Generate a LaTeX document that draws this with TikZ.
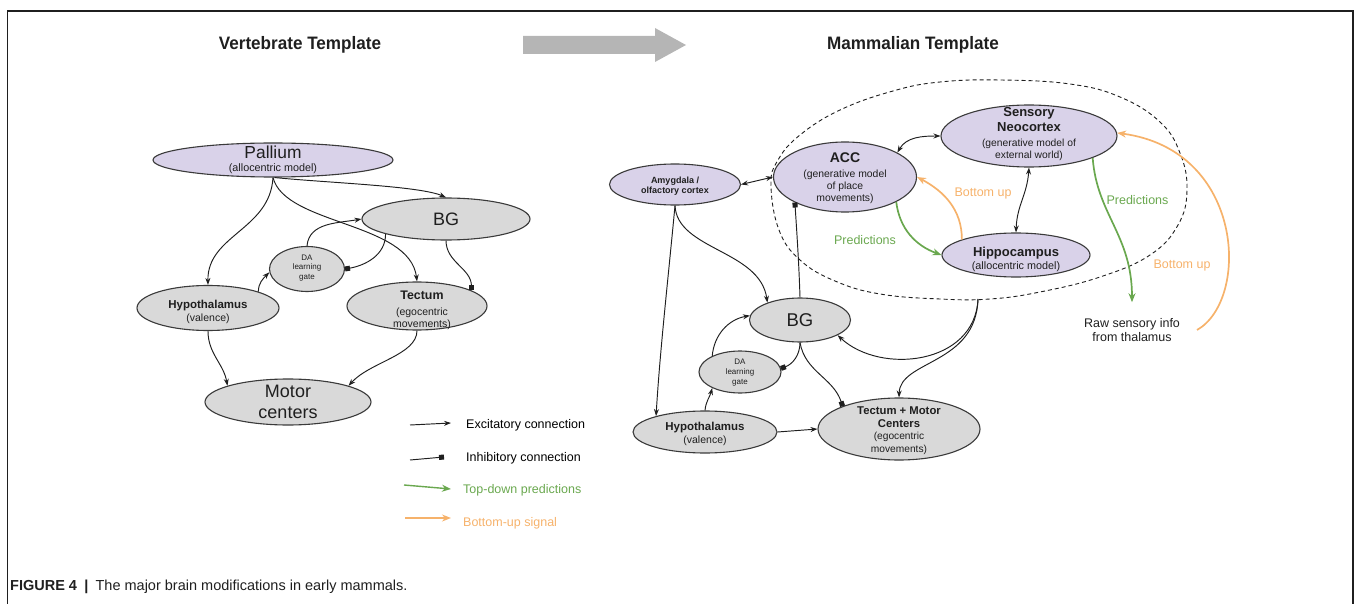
\documentclass[tikz,border=0pt]{standalone}
\usepackage{fontspec}
\setmainfont{Liberation Sans}
\newfontfamily\titlefont[FakeStretch=0.95]{Liberation Sans}
\usetikzlibrary{shapes.geometric,arrows.meta}

\definecolor{lav}{HTML}{D9D2E9}
\definecolor{gry}{HTML}{D9D9D9}
\definecolor{ink}{HTML}{1F1F1F}
\definecolor{rim}{HTML}{3A3A3A}
\definecolor{pgreen}{HTML}{6AA84F}
\definecolor{porange}{HTML}{F6B26B}
\definecolor{bigarrow}{HTML}{B5B5B5}

\newcommand{\fsz}[2]{\fontsize{#1}{#2}\selectfont}

\begin{document}
\begin{tikzpicture}[x=1pt,y=1pt,
  region/.style={ellipse, draw=rim, line width=1.1pt, inner sep=0pt},
  lavnode/.style={region, fill=lav},
  graynode/.style={region, fill=gry},
  lbl/.style={align=center, inner sep=0pt, text=ink},
  exc/.style={draw=ink, line width=0.95pt, -{Stealth[length=7pt,width=5pt]}},
  excboth/.style={draw=ink, line width=0.95pt, {Stealth[length=7pt,width=5pt]}-{Stealth[length=7pt,width=5pt]}},
  inh/.style={draw=ink, line width=0.95pt, -{Square[length=5pt,width=5pt]}},
  pred/.style={draw=pgreen, line width=1.7pt, -{Stealth[length=9pt,width=7pt]}},
  bup/.style={draw=porange, line width=1.7pt, -{Stealth[length=9pt,width=7pt]}},
  legendtxt/.style={anchor=west, inner sep=0pt, font=\fsz{12.5}{14}},
  ttl/.style={inner sep=0pt, font=\titlefont\bfseries\fsz{18}{20}, text=ink}
]
\useasboundingbox (0,0) rectangle (1355,-604);

% frame
\draw[ink, line width=1.2pt] (7.5,-604) -- (7.5,-11) -- (1353,-11) -- (1353,-604);

% titles and transition arrow
\node[ttl] (vtitle) at (300,-45) {Vertebrate Template};
\node[ttl] (mtitle) at (913,-45) {Mammalian Template};
\fill[bigarrow] (523,-36) -- (655,-36) -- (655,-28) -- (686,-45) -- (655,-62) -- (655,-54) -- (523,-54) -- cycle;

% ---------------- vertebrate template ----------------
\node[lavnode, minimum width=240pt, minimum height=34pt] (palliumL) at (273,-160) {};
\node[lbl, font=\fsz{10.8}{13}] (palliumLt) at (273,-160) {{\fsz{17.4}{13}Pallium}\\(allocentric model)};

\node[graynode, minimum width=168pt, minimum height=42pt] (bgL) at (446,-219) {};
\node[lbl, font=\fsz{18}{20}] (bgLt) at (446,-219) {BG};

\node[graynode, minimum width=75pt, minimum height=45pt] (daL) at (307,-269) {};
\node[lbl, font=\fsz{8}{9.7}] (daLt) at (307,-268) {DA\\learning\\gate};

\node[graynode, minimum width=142pt, minimum height=45pt] (hypoL) at (208,-308) {};
\node[lbl, font=\fsz{10.5}{13}] (hypoLt) at (208,-312) {{\bfseries\fsz{11.5}{13}Hypothalamus}\\(valence)};

\node[graynode, minimum width=140pt, minimum height=48pt] (tectL) at (417,-306) {};
\node[lbl, font=\fsz{10.5}{12}] (tectLt) at (422,-310.5) {{\bfseries\fsz{12.4}{12}Tectum}\\[4pt](egocentric\\movements)};

\node[graynode, minimum width=166pt, minimum height=46pt] (motorL) at (288,-402) {};
\node[lbl, font=\fsz{18}{21}] (motorLt) at (288,-401.5) {Motor\\centers};

\draw[exc] (palliumL.south) .. controls (270,-230) and (207,-235) .. (hypoL.north);
\draw[exc] (palliumL.south) .. controls (285,-225) and (410,-222) .. (tectL.north);
\draw[exc] (palliumL.-85) .. controls (330,-183) and (420,-186) .. (bgL.north);
\draw[exc] (hypoL.18) to[out=90, in=-135] (daL.185);
\draw[exc] (daL.north) to[out=85, in=190] (bgL.west);
\draw[inh] (bgL.194) to[out=-90, in=10] (daL.east);
\draw[inh] (bgL.south) to[out=-90, in=90] (tectL.16);
\draw[exc] (tectL.south) .. controls (417,-355) and (370,-362) .. (motorL.15);
\draw[exc] (hypoL.south) to[out=-90, in=100] (motorL.165);

% legend
\coordinate (lgEa) at (410,-425); \coordinate (lgEb) at (451,-423);
\coordinate (lgIa) at (410,-460); \coordinate (lgIb) at (444,-457);
\coordinate (lgPa) at (404,-485); \coordinate (lgPb) at (451,-489);
\coordinate (lgBa) at (405,-518); \coordinate (lgBb) at (451,-518);
\draw[exc] (lgEa) -- (lgEb);
\draw[inh] (lgIa) to[out=5, in=185] (lgIb);
\draw[pred, line width=1.4pt] (lgPa) -- (lgPb);
\draw[bup, line width=1.4pt] (lgBa) -- (lgBb);
\node[legendtxt] (lgEt) at (466,-425) {Excitatory connection};
\node[legendtxt] (lgIt) at (466,-458) {Inhibitory connection};
\node[legendtxt, text=pgreen] (lgPt) at (463,-490) {Top-down predictions};
\node[legendtxt, text=porange] (lgBt) at (463,-523) {Bottom-up signal};

% ---------------- mammalian template ----------------
\node[lavnode, minimum width=131pt, minimum height=41pt] (amyg) at (675,-184.5) {};
\node[lbl, font=\bfseries\fsz{9}{10.5}] (amygt) at (675,-186) {Amygdala /\\olfactory cortex};

\node[lavnode, minimum width=143pt, minimum height=70pt] (acc) at (845,-177) {};
\node[lbl, font=\fsz{10.4}{12}] (acct) at (845,-178.2) {{\bfseries\fsz{14}{12}ACC}\\[3pt](generative model\\of place\\movements)};

\node[lavnode, minimum width=176pt, minimum height=62pt] (sens) at (1029,-136) {};
\node[lbl, font=\fsz{10.3}{12}] (senst) at (1029,-134.4) {{\bfseries\fsz{13}{12}Sensory}\\[3pt]{\bfseries\fsz{13}{12}Neocortex}\\[3pt](generative model of\\external world)};

\node[lavnode, minimum width=148pt, minimum height=44pt] (hippo) at (1016,-255) {};
\node[lbl, font=\fsz{10.8}{13}] (hippot) at (1016,-259) {{\bfseries\fsz{13}{13}Hippocampus}\\(allocentric model)};

\node[graynode, minimum width=101pt, minimum height=44pt] (bgR) at (800,-320) {};
\node[lbl, font=\fsz{18.5}{20}] (bgRt) at (800,-320) {BG};

\node[graynode, minimum width=82pt, minimum height=42pt] (daR) at (740,-372) {};
\node[lbl, font=\fsz{8}{9.7}] (daRt) at (740,-372.4) {DA\\learning\\gate};

\node[graynode, minimum width=144pt, minimum height=42pt] (hypoR) at (705,-432) {};
\node[lbl, font=\fsz{10.5}{13}] (hypoRt) at (705,-434) {{\bfseries\fsz{11.5}{13}Hypothalamus}\\(valence)};

\node[graynode, minimum width=162pt, minimum height=62pt] (tect) at (899,-429) {};
\node[lbl, font=\fsz{10.2}{12.5}] (tectt) at (899,-430.6) {{\bfseries\fsz{11.3}{12.5}Tectum + Motor}\\{\bfseries\fsz{11.3}{12.5}Centers}\\(egocentric\\movements)};

\node[lbl, font=\fsz{12.5}{14}] (raw) at (1132,-330) {Raw sensory info\\from thalamus};

% cortical envelope
\draw[ink, line width=0.9pt, dash pattern=on 4pt off 3pt]
  plot[smooth cycle, tension=0.7] coordinates {
    (771,-185) (779,-230) (800,-260) (835,-281) (880,-294) (940,-299)
    (990,-299) (1040,-292) (1100,-277) (1150,-255) (1178,-225) (1187,-190)
    (1180,-153) (1160,-122) (1120,-97) (1070,-84) (1000,-80) (940,-82)
    (893,-91) (840,-110) (800,-135) (778,-160)};
\coordinate (cortexbase) at (978,-299);
\coordinate (thal) at (1197,-330);

% connections
\draw[excboth] (amyg.east) -- (acc.west);
\draw[inh] (bgR.north) .. controls (799,-265) and (797,-235) .. (acc.207);
\draw[exc] (amyg.south) .. controls (677,-250) and (760,-250) .. (bgR.152);
\draw[exc] (amyg.south) .. controls (668,-280) and (660,-350) .. (hypoR.162);
\draw[pred] (acc.-26) to[out=-83, in=160] (hippo.west);
\draw[bup] (hippo.164) to[out=90, in=-28] (acc.east);
\draw[excboth] (acc.25) to[out=60, in=180] (sens.west);
\draw[excboth] (sens.south) .. controls (1027,-195) and (1017,-205) .. (hippo.north);
\draw[pred, shorten >=16pt] (sens.-19) .. controls (1097,-215) and (1132,-235) .. (raw.north);
\draw[bup] (thal) .. controls (1250,-300) and (1245,-150) .. (sens.2);
\draw[exc] (hypoR.north) to[out=85, in=-105] (daR.210);
\draw[exc] (daR.150) to[out=85, in=190] (bgR.175);
\draw[inh] (bgR.south) to[out=-90, in=20] (daR.5);
\draw[inh] (bgR.south) to[out=-80, in=108] (tect.158);
\draw[exc] (hypoR.east) -- (tect.west);
\draw[exc] (cortexbase) .. controls (975,-365) and (880,-375) .. (bgR.-22);
\draw[exc] (cortexbase) .. controls (976,-365) and (900,-360) .. (tect.north);

% path labels
\node[inner sep=0pt, font=\fsz{12.5}{14}, text=pgreen] (predA) at (865,-240) {Predictions};
\node[inner sep=0pt, font=\fsz{12.5}{14}, text=porange] (bupA) at (983,-193) {Bottom up};
\node[inner sep=0pt, font=\fsz{12.5}{14}, text=pgreen] (predB) at (1137.5,-200) {Predictions};
\node[inner sep=0pt, font=\fsz{12.5}{14}, text=porange] (bupB) at (1182,-265) {Bottom up};

% caption
\node[anchor=base west, inner sep=0pt, font=\fsz{14.5}{16}, text=ink] (caption) at (10,-590)
  {\textbf{FIGURE 4}\enspace\textbf{|}\enspace The major brain modifications in early mammals.};
\end{tikzpicture}
\end{document}
